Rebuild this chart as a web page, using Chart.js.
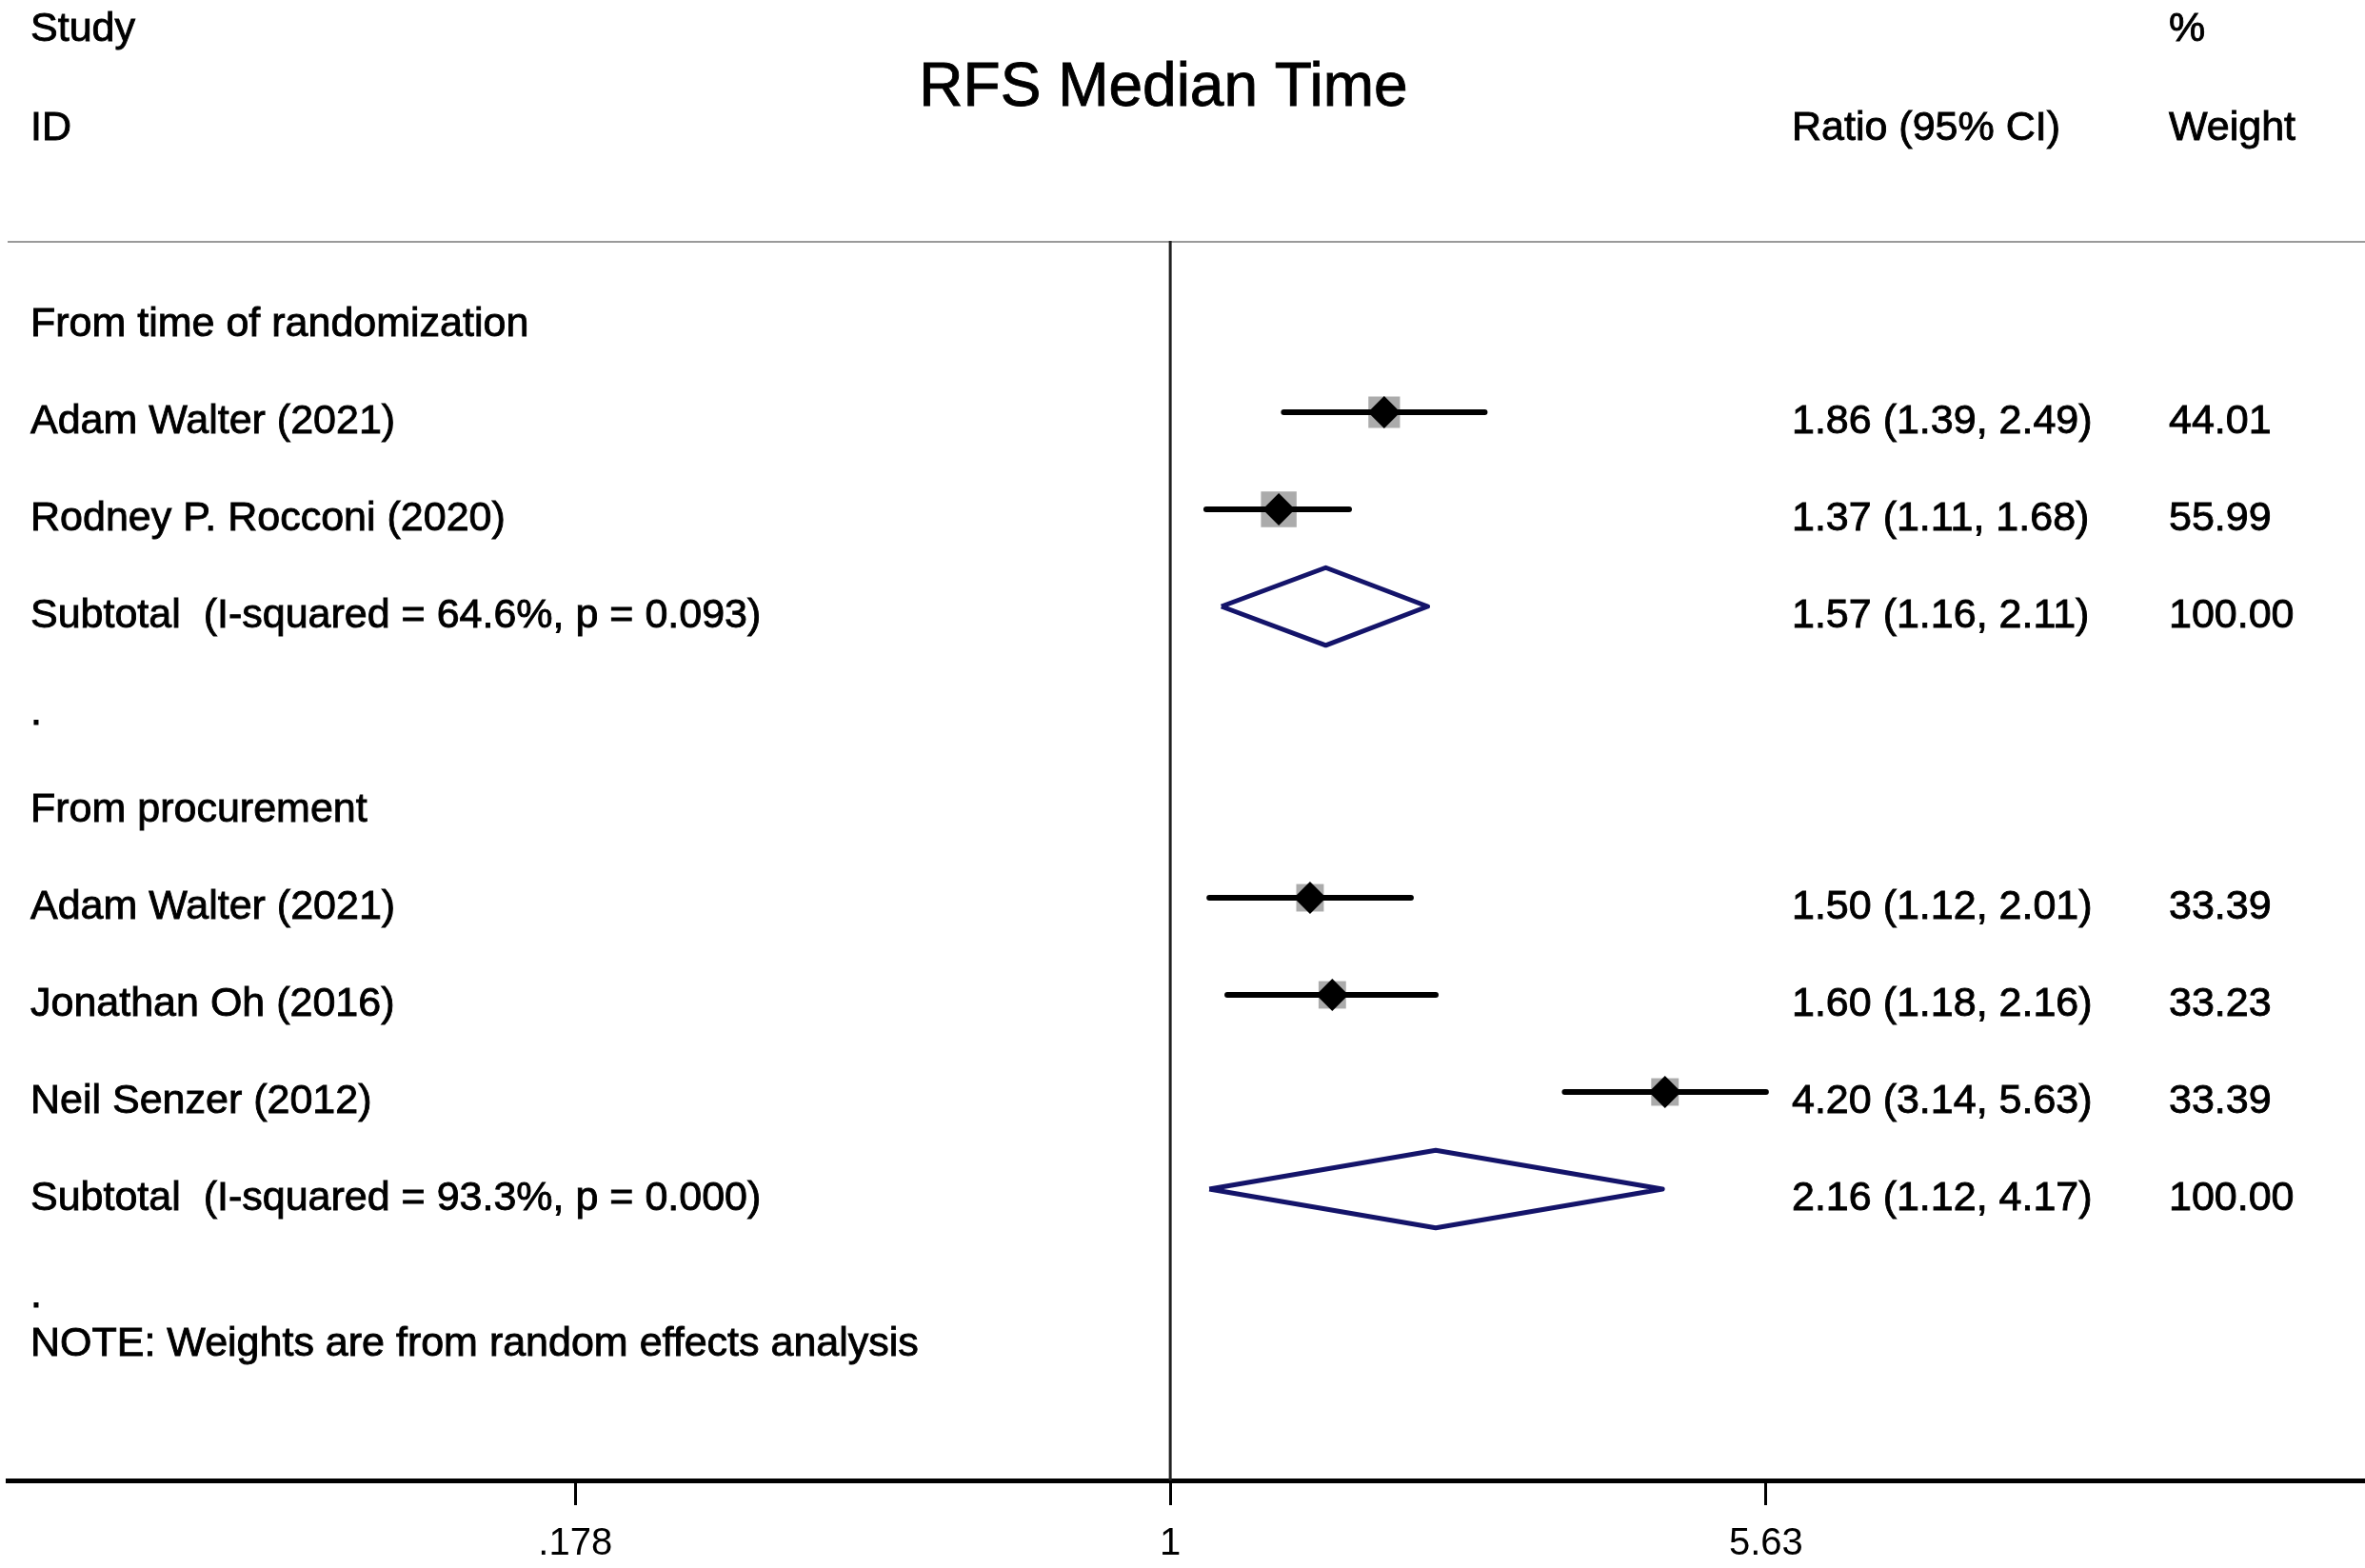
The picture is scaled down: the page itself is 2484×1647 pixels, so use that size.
<!DOCTYPE html>
<html>
<head>
<meta charset="utf-8">
<script src="https://cdn.jsdelivr.net/npm/chart.js@4.4.1/dist/chart.umd.min.js"></script>
<style>
  html, body { margin: 0; padding: 0; background: #fff; }
  #wrap { width: 2484px; height: 1647px; position: relative; }
</style>
</head>
<body>
<div id="wrap"><canvas id="forest"></canvas></div>
<script>
// row labels (row index = position in this list)
const rowLabels = [
	"From time of randomization",
	"Adam Walter (2021)",
	"Rodney P. Rocconi (2020)",
	"Subtotal  (I-squared = 64.6%, p = 0.093)",
	".",
	"From procurement",
	"Adam Walter (2021)",
	"Jonathan Oh (2016)",
	"Neil Senzer (2012)",
	"Subtotal  (I-squared = 93.3%, p = 0.000)",
	"."
];

// individual studies
const studyRows = [1, 2, 6, 7, 8];
const studyRatio = [1.86, 1.37, 1.50, 1.60, 4.20];
const studyLower = [1.39, 1.11, 1.12, 1.18, 3.14];
const studyUpper = [2.49, 1.68, 2.01, 2.16, 5.63];
const studyWeight = [44.01, 55.99, 33.39, 33.23, 33.39];

// pooled subtotals
const subRows = [3, 9];
const subRatio = [1.57, 2.16];
const subLower = [1.16, 1.12];
const subUpper = [2.11, 4.17];
const subWeight = [100.00, 100.00];

// x axis
const tickValues = [0.178, 1, 5.63];
const tickLabels = [".178", "1", "5.63"];

const X_MIN = 0.0343, X_MAX = 32.0;
const Y_TOP = -0.765, Y_BOTTOM = 12;

const FONT = "'Liberation Sans', Arial, Helvetica, sans-serif";

const datasets = [];

// weight boxes
datasets.push({
	type: "scatter",
	data: studyRows.map((r, i) => ({ x: studyRatio[i], y: r })),
	pointStyle: "rect",
	pointRadius: studyWeight.map(w => 5.0 * Math.sqrt(w) / 1.414),
	backgroundColor: "#ababab",
	borderWidth: 0,
	order: 3,
});

// confidence intervals
studyRows.forEach((r, i) => {
	datasets.push({
		type: "scatter",
		showLine: true,
		data: [{ x: studyLower[i], y: r }, { x: studyUpper[i], y: r }],
		borderColor: "#000",
		borderWidth: 6,
		borderCapStyle: "round",
		pointRadius: 0,
		order: 2,
	});
});

// point estimates
datasets.push({
	type: "scatter",
	data: studyRows.map((r, i) => ({ x: studyRatio[i], y: r })),
	pointStyle: "rectRot",
	pointRadius: 17,
	backgroundColor: "#000",
	borderWidth: 0,
	order: 1,
});

// subtotal diamonds
subRows.forEach((r, i) => {
	datasets.push({
		type: "scatter",
		showLine: true,
		data: [
			{ x: subLower[i], y: r },
			{ x: subRatio[i], y: r - 0.4 },
			{ x: subUpper[i], y: r },
			{ x: subRatio[i], y: r + 0.4 },
			{ x: subLower[i], y: r },
		],
		borderColor: "#14146a",
		borderWidth: 5,
		borderJoinStyle: "round",
		pointRadius: 0,
		fill: false,
		order: 1,
	});
});

// null line at 1
datasets.push({
	type: "scatter",
	showLine: true,
	data: [{ x: 1, y: Y_TOP }, { x: 1, y: Y_BOTTOM }],
	borderColor: "#222",
	borderWidth: 3,
	pointRadius: 0,
	order: 4,
});

// header rule
datasets.push({
	type: "scatter",
	showLine: true,
	data: [{ x: X_MIN, y: Y_TOP }, { x: X_MAX, y: Y_TOP }],
	borderColor: "#9a9a9a",
	borderWidth: 4,
	pointRadius: 0,
	order: 5,
});

const fmt = v => v.toFixed(2);

// slightly heavier text, like the original export
function put(ctx, t, x, y) {
	ctx.fillText(t, x, y);
	ctx.strokeText(t, x, y);
}

const textPlugin = {
	id: "forestText",
	afterDraw(chart) {
		const ctx = chart.ctx;
		const y = chart.scales.y;
		ctx.save();
		ctx.fillStyle = "#000";
		ctx.strokeStyle = "#000";
		ctx.lineWidth = 0.9;
		ctx.textBaseline = "middle";
		ctx.textAlign = "left";

		ctx.font = "43px " + FONT;
		put(ctx, "Study", 32, 31);
		put(ctx, "ID", 32, 135);
		put(ctx, "Ratio (95% CI)", 1882, 135);
		put(ctx, "%", 2278, 31);
		put(ctx, "Weight", 2278, 135);

		ctx.textAlign = "center";
		ctx.font = "64px " + FONT;
		put(ctx, "RFS Median Time", 1222, 93);

		ctx.textAlign = "left";
		ctx.font = "43px " + FONT;
		rowLabels.forEach((t, r) => {
			put(ctx, t, 32, y.getPixelForValue(r) + 10);
		});
		studyRows.forEach((r, i) => {
			const py = y.getPixelForValue(r) + 10;
			put(ctx, fmt(studyRatio[i]) + " (" + fmt(studyLower[i]) + ", " + fmt(studyUpper[i]) + ")", 1882, py);
			put(ctx, fmt(studyWeight[i]), 2278, py);
		});
		subRows.forEach((r, i) => {
			const py = y.getPixelForValue(r) + 10;
			put(ctx, fmt(subRatio[i]) + " (" + fmt(subLower[i]) + ", " + fmt(subUpper[i]) + ")", 1882, py);
			put(ctx, fmt(subWeight[i]), 2278, py);
		});
		put(ctx, "NOTE: Weights are from random effects analysis", 32, y.getPixelForValue(10.6));
		ctx.restore();
	}
};

new Chart(document.getElementById("forest"), {
	data: { datasets },
	options: {
		responsive: true,
		maintainAspectRatio: false,
		animation: false,
		layout: { autoPadding: false, padding: { top: 253, left: 8, right: 0, bottom: 0 } },
		plugins: {
			legend: { display: false },
			tooltip: { enabled: false },
		},
		scales: {
			x: {
				type: "logarithmic",
				min: X_MIN,
				max: X_MAX,
				afterBuildTicks: axis => {
					axis.ticks = tickValues.map(v => ({ value: v }));
				},
				afterFit: axis => {
					axis.height = 92;
				},
				ticks: {
					autoSkip: false,
					maxRotation: 0,
					padding: 17,
					color: "#000",
					font: { family: FONT, size: 40 },
					callback: (v, i) => tickLabels[i],
				},
				grid: {
					drawOnChartArea: false,
					drawTicks: true,
					tickLength: 26,
					tickWidth: 3,
					tickColor: "#000",
				},
				border: { display: true, color: "#000", width: 5 },
			},
			y: {
				type: "linear",
				reverse: true,
				min: Y_TOP,
				max: Y_BOTTOM,
				display: false,
			},
		},
	},
	plugins: [textPlugin],
});
</script>
</body>
</html>
